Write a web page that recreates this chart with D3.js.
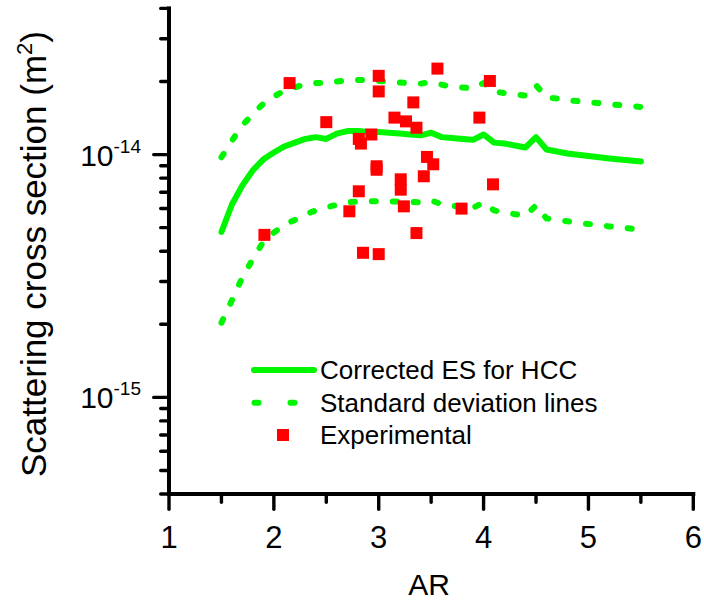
<!DOCTYPE html>
<html lang="en">
<head>
<meta charset="UTF-8">
<title>Scattering cross section vs AR</title>
<style>
    body { margin: 0; background: #fff; overflow: hidden; }
    #chart svg { display: block; }
    #chart text { font-family: "Liberation Sans", Arial, sans-serif; fill: #000; }
</style>
</head>
<body>
<div id="chart"></div>
<script src="https://cdn.jsdelivr.net/npm/d3@7/dist/d3.min.js"></script>
<script>
// AR values where the model curves are sampled
var arGrid = [1.5, 1.6, 1.7, 1.8, 1.9, 2.0, 2.1, 2.2, 2.3, 2.4, 2.5, 2.6, 2.7, 2.8, 2.9, 3.0,
    3.1, 3.2, 3.3, 3.4, 3.5, 3.6, 3.7, 3.8, 3.9, 4.0, 4.1, 4.2, 4.3, 4.4, 4.5, 4.6, 4.7, 4.8,
    4.9, 5.0, 5.1, 5.2, 5.3, 5.4, 5.5];

// corrected ES for HCC (m^2)
var correctedES = [4.80e-15, 6.23e-15, 7.47e-15, 8.62e-15, 9.56e-15, 1.02e-14, 1.08e-14, 1.12e-14,
    1.16e-14, 1.18e-14, 1.16e-14, 1.22e-14, 1.25e-14, 1.25e-14, 1.24e-14, 1.24e-14, 1.23e-14,
    1.22e-14, 1.21e-14, 1.20e-14, 1.23e-14, 1.18e-14, 1.17e-14, 1.16e-14, 1.15e-14, 1.21e-14,
    1.12e-14, 1.11e-14, 1.09e-14, 1.07e-14, 1.18e-14, 1.05e-14, 1.03e-14, 1.01e-14, 9.98e-15,
    9.86e-15, 9.75e-15, 9.64e-15, 9.54e-15, 9.45e-15, 9.37e-15];

// standard deviation lines
var stdUpper = [9.75e-15, 1.14e-14, 1.32e-14, 1.47e-14, 1.62e-14, 1.73e-14, 1.84e-14, 1.89e-14,
    1.95e-14, 1.97e-14, 1.97e-14, 2.00e-14, 2.02e-14, 2.03e-14, 2.03e-14, 2.01e-14, 2.00e-14,
    1.98e-14, 1.97e-14, 1.96e-14, 1.99e-14, 1.94e-14, 1.90e-14, 1.89e-14, 1.87e-14, 1.97e-14,
    1.82e-14, 1.79e-14, 1.77e-14, 1.75e-14, 1.93e-14, 1.72e-14, 1.70e-14, 1.67e-14, 1.66e-14,
    1.64e-14, 1.63e-14, 1.61e-14, 1.60e-14, 1.59e-14, 1.57e-14];
var stdLower = [2.03e-15, 2.51e-15, 3.12e-15, 3.72e-15, 4.38e-15, 4.77e-15, 5.14e-15, 5.38e-15,
    5.67e-15, 5.89e-15, 6.06e-15, 6.21e-15, 6.36e-15, 6.40e-15, 6.42e-15, 6.42e-15, 6.42e-15,
    6.40e-15, 6.38e-15, 6.36e-15, 6.48e-15, 6.24e-15, 6.15e-15, 6.09e-15, 6.03e-15, 6.36e-15,
    5.89e-15, 5.78e-15, 5.68e-15, 5.59e-15, 6.18e-15, 5.46e-15, 5.38e-15, 5.31e-15, 5.24e-15,
    5.18e-15, 5.12e-15, 5.06e-15, 5.00e-15, 4.96e-15, 4.91e-15];

// experimental points
var expAR = [1.91, 2.15, 2.50, 2.72, 2.81, 2.83, 2.81, 2.85, 2.93, 2.98, 2.98, 3.00, 3.00, 3.00,
    3.15, 3.21, 3.21, 3.24, 3.26, 3.33, 3.36, 3.36, 3.43, 3.46, 3.52, 3.56, 3.79, 3.96, 4.06, 4.09];
var expSigma = [4.67e-15, 1.97e-14, 1.36e-14, 5.84e-15, 1.16e-14, 1.11e-14, 7.06e-15, 3.94e-15,
    1.21e-14, 8.95e-15, 8.66e-15, 3.89e-15, 2.11e-14, 1.82e-14, 1.42e-14, 7.91e-15, 7.17e-15,
    6.12e-15, 1.37e-14, 1.64e-14, 1.29e-14, 4.75e-15, 8.14e-15, 9.78e-15, 9.12e-15, 2.26e-14,
    5.99e-15, 1.42e-14, 2.01e-14, 7.54e-15];

// axes
var xTicks = [1, 2, 3, 4, 5, 6];
var xMinorTicks = [1.5, 2.5, 3.5, 4.5, 5.5];
var yMajorTicks = [1e-15, 1e-14];
var yMajorExp = ["-15", "-14"];
var legendLabels = ["Corrected ES for HCC", "Standard deviation lines", "Experimental"];

var W = 704, H = 602;
var green = "#00f500", red = "#ff0000";

var svg = d3.select("#chart").append("svg")
    .attr("width", W).attr("height", H);

var x = d3.scaleLinear().domain([1, 6]).range([169, 693.3]);
var y = d3.scaleLog().domain([4e-16, 4e-14]).range([494, 8.4]);

//坐标轴: 轴线和刻度用实心矩形画
var yMinor = y.ticks().filter(function (d) {
    return yMajorTicks.every(function (m) { return Math.abs(d - m) / m > 1e-6; });
});
var x0 = x.range()[0], x1 = x.range()[1];
var y0 = y.range()[0], y1 = y.range()[1];
var tw = 3.4, aw = 4;

var ax = svg.append("g").attr("fill", "#000");

function yTick(data, len) {
    ax.append("g").selectAll("rect").data(data).enter().append("rect")
        .attr("x", x0 - len).attr("width", len)
        .attr("y", function (d) { return y(d) - tw / 2; }).attr("height", tw)
        .attr("rx", tw / 2).attr("fill", "#000");
}
function xTick(data, len) {
    ax.append("g").selectAll("rect").data(data).enter().append("rect")
        .attr("x", function (d) { return x(d) - tw / 2; }).attr("width", tw)
        .attr("y", y0).attr("height", len)
        .attr("rx", tw / 2).attr("fill", "#000");
}
yTick(yMinor, 10);
yTick(yMajorTicks, 17);
xTick(xMinorTicks, 10);
xTick(xTicks, 17);

ax.append("rect").attr("x", x0 - aw / 2).attr("y", y1 - aw / 2)
    .attr("width", aw).attr("height", y0 - y1 + aw).attr("fill", "#000");
ax.append("rect").attr("x", x0 - aw / 2).attr("y", y0 - aw / 2)
    .attr("width", x1 - x0 + aw).attr("height", aw).attr("fill", "#000");

// x tick labels
svg.append("g").selectAll("text").data(xTicks).enter().append("text")
    .attr("x", function (d) { return x(d); })
    .attr("y", 548)
    .attr("text-anchor", "middle")
    .attr("font-size", 31)
    .text(function (d) { return d; });

// y tick labels 10^n
var yl = svg.append("g").selectAll("text").data(yMajorTicks).enter().append("text")
    .attr("x", 141)
    .attr("y", function (d) { return y(d) + 11; })
    .attr("text-anchor", "end")
    .attr("font-size", 30);
yl.append("tspan").text("10");
yl.append("tspan").attr("font-size", 19).attr("dy", -13)
    .text(function (d, i) { return yMajorExp[i]; });

// axis titles
svg.append("text")
    .attr("x", 429).attr("y", 595)
    .attr("text-anchor", "middle")
    .attr("font-size", 30)
    .text("AR");

var yt = svg.append("text")
    .attr("transform", "translate(46,254) rotate(-90)")
    .attr("text-anchor", "middle")
    .attr("font-size", 35);
yt.append("tspan").text("Scattering cross section (m");
yt.append("tspan").attr("font-size", 22).attr("dy", -14).text("2");
yt.append("tspan").attr("dy", 14).text(")");

//曲线
var lineGen = d3.line()
    .x(function (d) { return x(d[0]); })
    .y(function (d) { return y(d[1]); });

function pairs(vals) {
    return arGrid.map(function (a, i) { return [a, vals[i]]; });
}

[stdUpper, stdLower].forEach(function (s) {
    svg.append("path")
        .datum(pairs(s))
        .attr("d", lineGen)
        .attr("fill", "none")
        .attr("stroke", green)
        .attr("stroke-width", 6)
        .attr("stroke-linecap", "round")
        .attr("stroke-dasharray", "4,17");
});

svg.append("path")
    .datum(pairs(correctedES))
    .attr("d", lineGen)
    .attr("fill", "none")
    .attr("stroke", green)
    .attr("stroke-width", 6)
    .attr("stroke-linejoin", "round")
    .attr("stroke-linecap", "round");

// experimental squares
var sq = 12;
svg.append("g").selectAll("rect").data(expAR).enter().append("rect")
    .attr("x", function (d) { return x(d) - sq / 2; })
    .attr("y", function (d, i) { return y(expSigma[i]) - sq / 2; })
    .attr("width", sq).attr("height", sq)
    .attr("fill", red);

//图例
var lg = svg.append("g");
var rowY = [370, 402.7, 435];
lg.append("line").attr("x1", 254).attr("x2", 314).attr("y1", rowY[0]).attr("y2", rowY[0])
    .attr("stroke", green).attr("stroke-width", 6).attr("stroke-linecap", "round");
lg.append("line").attr("x1", 254.5).attr("x2", 316).attr("y1", rowY[1]).attr("y2", rowY[1])
    .attr("stroke", green).attr("stroke-width", 6).attr("stroke-linecap", "round")
    .attr("stroke-dasharray", "4,32");
lg.append("rect").attr("x", 283 - sq / 2).attr("y", rowY[2] - sq / 2)
    .attr("width", sq).attr("height", sq).attr("fill", red);
lg.selectAll("text").data(legendLabels).enter().append("text")
    .attr("x", 320)
    .attr("y", function (d, i) { return rowY[i] + 9; })
    .attr("font-size", 26)
    .text(function (d) { return d; });
</script>
</body>
</html>
